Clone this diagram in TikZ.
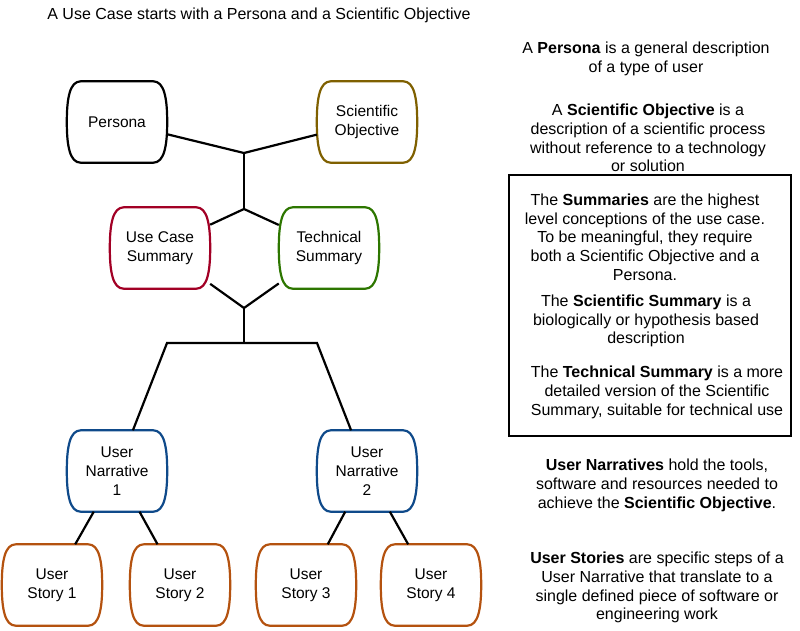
\documentclass[tikz,border=0pt]{standalone}
\usepackage{fontspec}
\setmainfont{Liberation Sans}
\usetikzlibrary{calc}
\definecolor{objcol}{HTML}{7F6000}
\definecolor{sumcol}{HTML}{A20025}
\definecolor{techcol}{HTML}{2D7600}
\definecolor{narcol}{HTML}{0F4A8A}
\definecolor{storycol}{HTML}{B4520F}
\begin{document}
\begin{tikzpicture}[x=1pt,y=-1pt,
    ucbox/.style={minimum width=100pt,minimum height=81pt,inner sep=0pt,align=center,
      font=\fontsize{15.5}{19}\selectfont,
      append after command={\pgfextra{\draw[draw=#1,line width=2.2pt]
        ($(\tikzlastnode.north west)+(14,0)$) -- ($(\tikzlastnode.north east)+(-14,0)$)
        .. controls +(11,0) and +(0,-24) .. (\tikzlastnode.east)
        .. controls +(0,24) and +(11,0) .. ($(\tikzlastnode.south east)+(-14,0)$)
        -- ($(\tikzlastnode.south west)+(14,0)$)
        .. controls +(-11,0) and +(0,24) .. (\tikzlastnode.west)
        .. controls +(0,-24) and +(-11,0) .. cycle;}}},
    ucbox/.default=black,
    note/.style={align=center,inner sep=0pt,font=\fontsize{16}{18.7}\selectfont},
    link/.style={line width=2.2pt}]
    \useasboundingbox (0,0) rectangle (800,630);
    \node[note] (title) at (259,15) {A Use Case starts with a Persona and a Scientific Objective};

    % the tree
    \node[ucbox] (persona) at (117,122) {Persona};
    \node[ucbox=objcol] (objective) at (367,122) {Scientific\\Objective};
    \node[ucbox=sumcol] (usecase) at (160,248) {Use Case\\Summary};
    \node[ucbox=techcol] (technical) at (329,248) {Technical\\Summary};
    \foreach \i/\x in {1/117,2/367} \node[ucbox=narcol] (narr\i) at (\x,471) {User\\Narrative\\\i};
    \foreach \i/\x in {1/52,2/180,3/306,4/431} \node[ucbox=storycol] (story\i) at (\x,585) {User\\Story \i};

    \coordinate (j1) at (244,153);
    \coordinate (j2) at (244,209);
    \coordinate (j3) at (244,308);
    \coordinate (j4) at (244,343);
    \coordinate (l4) at (167,343);
    \coordinate (r4) at (317,343);

    \draw[link] (persona) -- (j1) -- (objective);
    \draw[link] (j1) -- (j2);
    \draw[link] (usecase) -- (j2) -- (technical);
    \draw[link] (usecase) -- (j3) -- (technical);
    \draw[link] (j3) -- (j4);
    \draw[link] (narr1) -- (l4) -- (r4) -- (narr2);
    \foreach \s in {1,2} \draw[link] (narr1) -- (story\s);
    \foreach \s in {3,4} \draw[link] (narr2) -- (story\s);

    % the notes
    \node[note] (personanote) at (646,59) {A \textbf{Persona} is a general description\\of a type of user};
    \node[note] (objnote) at (648,138) {A \textbf{Scientific Objective} is a\\description of a scientific process\\without reference to a technology\\or solution};
    \node[draw,line width=2pt,minimum width=282pt,minimum height=261pt] (summbox) at (650,305.5) {};
    \node[note] (summnote) at (645,237) {The \textbf{Summaries} are the highest\\level conceptions of the use case.\\To be meaningful, they require\\both a Scientific Objective and a\\Persona.};
    \node[note] (scinote) at (646,321) {The \textbf{Scientific Summary} is a\\biologically or hypothesis based\\description};
    \node[note] (technote) at (657,392.5) {The \textbf{Technical Summary} is a more\\detailed version of the Scientific\\Summary, suitable for technical use};
    \node[note] (narrnote) at (657,485.5) {\textbf{User Narratives} hold the tools,\\software and resources needed to\\achieve the \textbf{Scientific Objective}.};
    \node[note] (storynote) at (657,587.5) {\textbf{User Stories} are specific steps of a\\User Narrative that translate to a\\single defined piece of software or\\engineering work};
\end{tikzpicture}
\end{document}
